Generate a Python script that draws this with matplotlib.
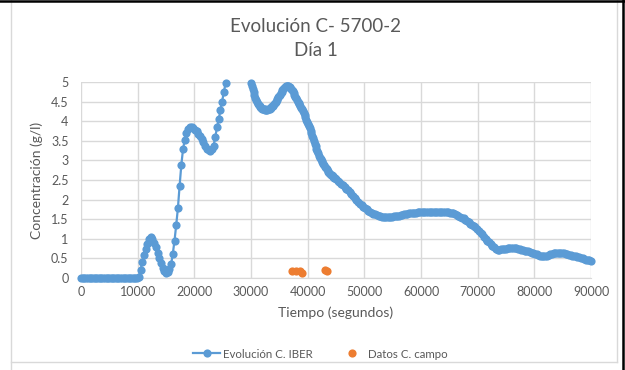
import numpy as np
import matplotlib
matplotlib.use('Agg')
import matplotlib.pyplot as plt
from matplotlib.lines import Line2D

plt.rcParams['font.family'] = ['Lato', 'DejaVu Sans']

blue = '#5B9BD5'
orange = '#ED7D31'
grey_txt = '#595959'
grid_c = '#D9D9D9'

# IBER concentration (g/l), 0 - 29700 s every 300 s
conc_a = [
    0, 0, 0, 0, 0, 0, 0, 0, 0, 0,
    0, 0, 0, 0, 0, 0, 0, 0, 0, 0,
    0, 0, 0, 0, 0, 0, 0, 0, 0, 0,
    0, 0, 0, 0, 0.03, 0.2, 0.4, 0.58, 0.75, 0.88,
    1.0, 1.05, 1.0, 0.9, 0.78, 0.65, 0.5, 0.37, 0.25, 0.17,
    0.14, 0.15, 0.22, 0.35, 0.62, 0.95, 1.35, 1.78, 2.35, 2.88,
    3.28, 3.52, 3.7, 3.8, 3.85, 3.85, 3.82, 3.78, 3.74, 3.68,
    3.62, 3.55, 3.47, 3.38, 3.3, 3.26, 3.25, 3.28, 3.38, 3.6,
    3.84, 4.05, 4.28, 4.5, 4.74, 4.97, 5.2, 5.42, 5.6, 5.75,
    5.85, 5.9, 5.9, 5.85, 5.75, 5.6, 5.45, 5.3, 5.18, 5.08,
]
# 30000 - 44850 s every 150 s
conc_b = [
    4.98, 4.9, 4.82, 4.74, 4.66, 4.59, 4.53, 4.49, 4.45, 4.42,
    4.39, 4.36, 4.34, 4.32, 4.31, 4.3, 4.3, 4.29, 4.29, 4.29,
    4.3, 4.31, 4.32, 4.34, 4.36, 4.38, 4.4, 4.43, 4.46, 4.49,
    4.53, 4.57, 4.61, 4.65, 4.68, 4.72, 4.75, 4.79, 4.82, 4.85,
    4.87, 4.89, 4.9, 4.91, 4.9, 4.88, 4.86, 4.83, 4.8, 4.76,
    4.71, 4.66, 4.62, 4.58, 4.54, 4.5, 4.47, 4.43, 4.38, 4.34,
    4.3, 4.25, 4.2, 4.15, 4.1, 4.03, 3.97, 3.93, 3.88, 3.82,
    3.76, 3.69, 3.62, 3.56, 3.5, 3.43, 3.36, 3.3, 3.24, 3.18,
    3.12, 3.07, 3.03, 2.99, 2.95, 2.91, 2.87, 2.83, 2.8, 2.77,
    2.74, 2.71, 2.69, 2.66, 2.64, 2.62, 2.6, 2.58, 2.56, 2.54,
]
# 45000 - 90000 s every 300 s
conc_c = [
    2.52, 2.48, 2.45, 2.41, 2.37, 2.33, 2.28, 2.24, 2.2, 2.15,
    2.1, 2.05, 2.0, 1.95, 1.9, 1.86, 1.82, 1.78, 1.75, 1.72,
    1.69, 1.66, 1.64, 1.62, 1.6, 1.58, 1.57, 1.56, 1.55, 1.55,
    1.55, 1.55, 1.56, 1.56, 1.57, 1.57, 1.58, 1.59, 1.6, 1.61,
    1.62, 1.63, 1.64, 1.65, 1.65, 1.66, 1.67, 1.67, 1.68, 1.68,
    1.69, 1.69, 1.69, 1.69, 1.69, 1.69, 1.69, 1.69, 1.69, 1.69,
    1.69, 1.69, 1.69, 1.69, 1.69, 1.68, 1.68, 1.67, 1.66, 1.65,
    1.63, 1.61, 1.59, 1.56, 1.54, 1.52, 1.49, 1.46, 1.43, 1.39,
    1.36, 1.33, 1.29, 1.26, 1.21, 1.16, 1.11, 1.05, 1.0, 0.95,
    0.91, 0.86, 0.82, 0.78, 0.75, 0.72, 0.72, 0.73, 0.74, 0.75,
    0.75, 0.76, 0.76, 0.76, 0.76, 0.76, 0.76, 0.75, 0.74, 0.72,
    0.71, 0.7, 0.69, 0.68, 0.67, 0.65, 0.63, 0.62, 0.6, 0.59,
    0.57, 0.56, 0.55, 0.55, 0.56, 0.58, 0.6, 0.62, 0.63, 0.64,
    0.65, 0.65, 0.65, 0.64, 0.63, 0.62, 0.6, 0.59, 0.58, 0.57,
    0.56, 0.55, 0.54, 0.53, 0.51, 0.5, 0.49, 0.47, 0.46, 0.45,
    0.44,
]

# field samples
t_campo = [37200, 38000, 38700, 38950, 43000, 43400]
conc_campo = [0.18, 0.19, 0.18, 0.12, 0.2, 0.19]

xticks = np.arange(0, 90001, 10000)
yticks = np.arange(0, 5.01, 0.5)
ytick_labels = ['0', '0.5', '1', '1.5', '2', '2.5', '3', '3.5', '4', '4.5', '5']

t = np.concatenate([np.arange(len(conc_a)) * 300,
                    30000 + np.arange(len(conc_b)) * 150,
                    45000 + np.arange(len(conc_c)) * 300])
conc = np.array(conc_a + conc_b + conc_c)
inside = conc <= 5.0

fig = plt.figure(figsize=(6.25, 3.7), dpi=100)
ax = fig.add_axes([81 / 625, 1 - 278 / 370, 510 / 625, 196 / 370])

ax.plot(t, conc, '-', color=blue, lw=1.6, zorder=3)
ax.plot(t[inside], conc[inside], 'o', color=blue, ms=5.9, mew=0,
        clip_on=False, zorder=3)
ax.plot(t_campo, conc_campo, 'o', color=orange, ms=5.9, mew=0,
        clip_on=False, zorder=4)

ax.set_xlim(0, 90000)
ax.set_ylim(0, 5)
ax.set_xticks(xticks)
ax.set_xticklabels([str(v) for v in xticks])
ax.set_yticks(yticks)
ax.set_yticklabels(ytick_labels)
ax.grid(True, color=grid_c, lw=1.0)
ax.set_axisbelow(True)
for s in ['top', 'right', 'left']:
    ax.spines[s].set_visible(False)
ax.spines['bottom'].set_color(grid_c)
ax.tick_params(length=0, labelsize=9, colors=grey_txt, pad=6)
ax.tick_params(axis='y', pad=9)

ax.set_xlabel('Tiempo (segundos)', fontsize=10, color=grey_txt, labelpad=6)
ax.set_ylabel('Concentración (g/l)', fontsize=10, color=grey_txt, labelpad=6)

fig.text(0.505, 1 - 27 / 370, 'Evolución C- 5700-2', ha='center', va='center',
         fontsize=13.5, color=grey_txt)
fig.text(0.505, 1 - 50 / 370, 'Día 1', ha='center', va='center',
         fontsize=13.5, color=grey_txt)

handles = [
    Line2D([], [], color=blue, lw=1.6, marker='o', ms=5.9, mew=0),
    Line2D([], [], color=orange, lw=0, marker='o', ms=5.9, mew=0),
]
fig.legend(handles, ['Evolución C. IBER', 'Datos C. campo'], loc='center',
           bbox_to_anchor=(0.513, 1 - 354 / 370), ncol=2, frameon=False,
           fontsize=8.3, labelcolor=grey_txt, handlelength=2.3,
           columnspacing=2.2, handletextpad=0.3)

# chart frame and window edges
fig.add_artist(Line2D([11 / 625, 11 / 625], [0, 1], color=grid_c, lw=1))
fig.add_artist(Line2D([617 / 625, 617 / 625], [1 - 362 / 370, 1], color=grid_c, lw=1))
fig.add_artist(Line2D([11 / 625, 617 / 625], [1 - 362 / 370, 1 - 362 / 370],
                      color=grid_c, lw=1))
fig.add_artist(Line2D([0, 1], [1 - 1 / 370, 1 - 1 / 370], color='black', lw=1.8))
fig.add_artist(Line2D([622.5 / 625, 622.5 / 625], [0, 1], color='black', lw=1.8))

fig.savefig('out.png', dpi=100)
